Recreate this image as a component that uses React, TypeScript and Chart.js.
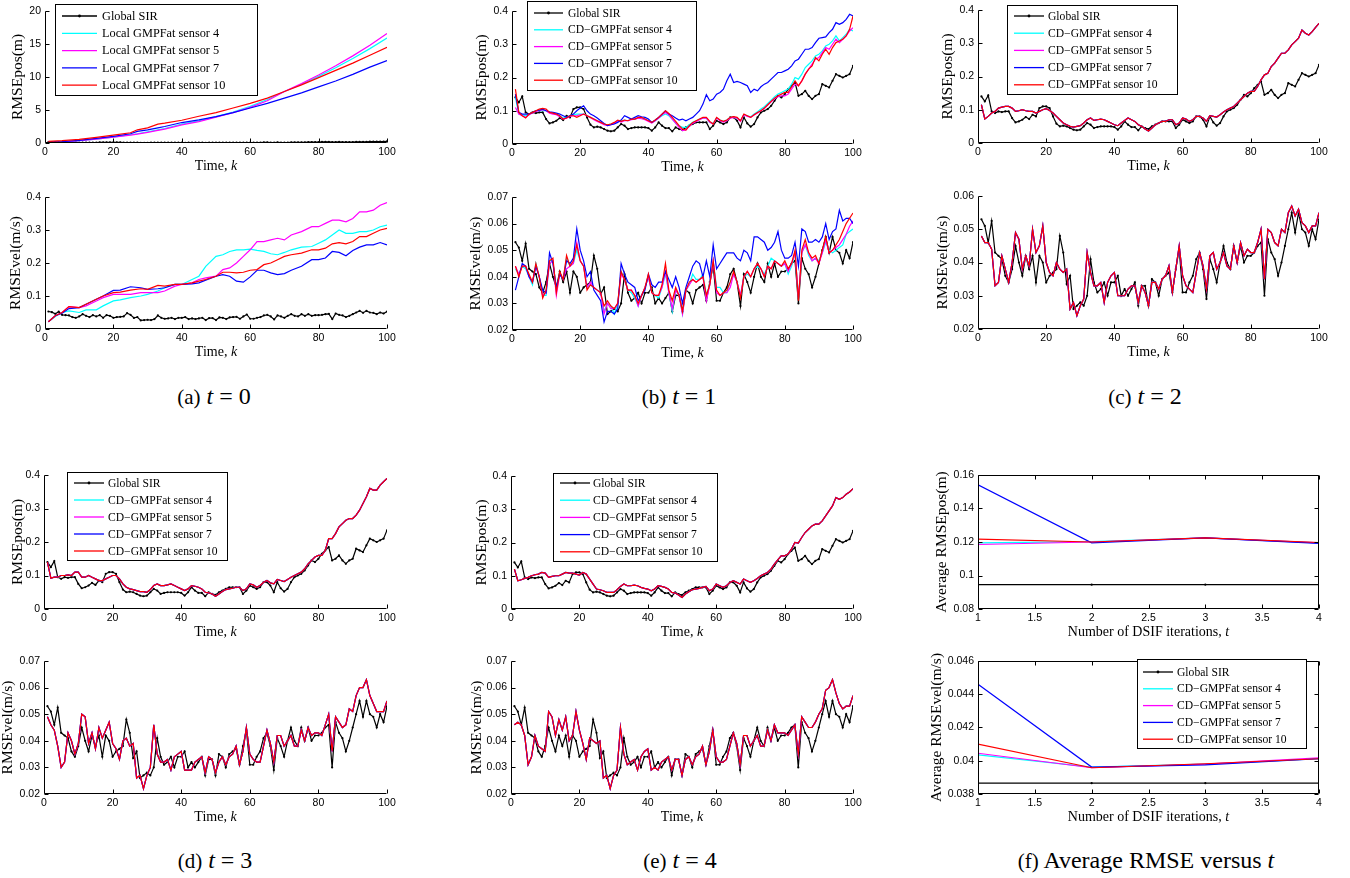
import React, { useEffect, useRef } from "react";
import { Chart, registerables } from "chart.js";
Chart.register(...registerables);

// ---------------- data ----------------
const K100 = Array.from({ length: 100 }, (_, i) => i + 1);

const globalPos = [
  .14,.125,.143,.095,.09,.095,.093,.095,.095,.075,
  .062,.065,.07,.078,.072,.085,.08,.105,.11,.11,
  .105,.08,.058,.05,.052,.05,.045,.04,.038,.04,
  .05,.06,.055,.045,.048,.05,.05,.05,.05,.048,
  .04,.05,.065,.055,.048,.048,.038,.05,.045,.042,
  .05,.055,.06,.065,.065,.065,.065,.045,.055,.07,
  .065,.06,.065,.08,.08,.07,.05,.08,.062,.052,
  .06,.08,.095,.1,.105,.115,.13,.145,.14,.15,
  .165,.175,.185,.145,.15,.16,.145,.135,.145,.15,
  .18,.175,.17,.19,.21,.205,.2,.205,.21,.235];

const globalVel = [
  .053,.051,.046,.0525,.043,.042,.041,.036,.034,.038,
  .045,.04,.036,.042,.038,.042,.034,.042,.04,.034,
  .036,.037,.038,.048,.043,.0335,.036,.026,.027,.028,
  .027,.03,.041,.034,.031,.032,.034,.03,.034,.034,
  .036,.03,.032,.03,.032,.034,.027,.033,.033,.027,
  .035,.034,.03,.035,.036,.037,.031,.038,.044,.031,
  .031,.034,.036,.041,.043,.038,.029,.041,.038,.034,
  .04,.045,.04,.038,.045,.04,.045,.04,.042,.042,
  .043,.045,.046,.03,.047,.043,.041,.036,.04,.045,
  .05,.055,.049,.055,.05,.049,.045,.05,.047,.053];

// (a) t = 0, local filters
const aPosK = [1,5,10,15,20,25,27,30,33,35,40,45,50,55,60,65,70,75,80,85,90,95,100];
const aPosS4 = [0.1,0.15,0.35,0.6,0.9,1.25,1.4,1.7,2.0,2.2,2.85,3.35,4.0,4.7,5.55,6.6,7.8,8.9,10.1,11.4,12.8,14.3,15.9];
const aPosS5 = [0.1,0.15,0.35,0.6,0.9,1.2,1.35,1.6,1.9,2.1,2.75,3.25,3.9,4.6,5.4,6.4,7.8,9.0,10.3,11.7,13.2,14.8,16.6];
const aPosS7 = [0.15,0.2,0.4,0.7,1.0,1.4,1.75,2.0,2.3,2.5,3.1,3.5,4.0,4.6,5.3,6.0,6.8,7.6,8.5,9.4,10.4,11.5,12.5];
const aPosS10 = [0.25,0.35,0.55,0.85,1.2,1.55,2.0,2.3,2.85,3.0,3.45,4.05,4.6,5.3,6.0,6.8,7.8,8.8,9.9,11.0,12.1,13.3,14.5];

const aVelK = [1,3,5,7,10,12,15,17,20,22,25,28,30,33,35,38,40,43,45,47,50,52,54,56,58,60,62,64,66,68,70,72,75,78,80,82,84,86,88,90,92,94,96,98,100];
const aVelS4 = [.022,.038,.050,.055,.050,.058,.058,.070,.085,.088,.095,.100,.105,.115,.125,.135,.135,.150,.160,.190,.220,.225,.235,.240,.240,.242,.238,.235,.228,.225,.232,.240,.248,.250,.260,.270,.285,.300,.290,.290,.295,.295,.300,.310,.315];
const aVelS5 = [.022,.040,.050,.068,.065,.070,.085,.095,.105,.105,.105,.110,.110,.110,.115,.130,.135,.140,.150,.155,.160,.180,.185,.200,.220,.240,.265,.265,.270,.275,.270,.285,.295,.310,.310,.320,.330,.330,.325,.335,.355,.355,.360,.375,.383];
const aVelS7 = [.022,.040,.048,.062,.065,.075,.090,.100,.117,.118,.128,.125,.120,.122,.125,.135,.135,.137,.140,.148,.160,.165,.160,.145,.142,.158,.178,.178,.170,.165,.168,.178,.190,.210,.210,.215,.235,.232,.222,.238,.248,.255,.255,.262,.255];
const aVelS10 = [.022,.040,.050,.068,.065,.075,.090,.100,.110,.112,.118,.122,.120,.132,.130,.135,.135,.140,.145,.150,.160,.172,.172,.170,.172,.178,.180,.195,.200,.210,.220,.225,.230,.240,.240,.245,.258,.262,.258,.265,.280,.280,.290,.300,.305];

// (b) t = 1
const bPosS4 = [
  .14,.09,.088,.085,.09,.095,.1,.1,.1,.1,
  .095,.093,.09,.085,.078,.08,.085,.088,.09,.09,
  .09,.085,.08,.075,.07,.065,.06,.058,.06,.062,
  .068,.068,.072,.07,.075,.075,.078,.078,.075,.07,
  .065,.07,.078,.085,.09,.085,.075,.062,.055,.05,
  .05,.058,.065,.07,.075,.078,.078,.065,.062,.078,
  .072,.068,.072,.08,.08,.078,.07,.088,.085,.082,
  .09,.097,.105,.112,.122,.132,.142,.15,.155,.16,
  .165,.18,.2,.195,.21,.23,.24,.25,.265,.27,
  .28,.295,.3,.31,.325,.31,.32,.33,.345,.34];
const bPosS5 = [
  .11,.09,.085,.08,.088,.093,.098,.1,.103,.1,
  .093,.09,.088,.082,.075,.078,.083,.085,.085,.088,
  .09,.085,.08,.073,.068,.063,.058,.055,.058,.062,
  .07,.066,.07,.07,.073,.075,.078,.076,.073,.068,
  .063,.07,.078,.088,.095,.088,.075,.063,.05,.04,
  .042,.053,.062,.068,.073,.078,.078,.065,.06,.078,
  .07,.066,.07,.078,.08,.078,.068,.088,.083,.08,
  .087,.093,.1,.107,.117,.127,.136,.142,.145,.145,
  .15,.165,.18,.175,.19,.21,.225,.24,.255,.26,
  .275,.29,.285,.3,.315,.305,.315,.325,.34,.35];
const bPosS7 = [
  .15,.095,.09,.09,.09,.095,.1,.102,.105,.1,
  .097,.095,.093,.09,.085,.08,.085,.09,.1,.108,
  .115,.1,.09,.085,.078,.07,.062,.055,.058,.06,
  .065,.072,.085,.08,.075,.08,.085,.082,.08,.075,
  .065,.072,.08,.09,.1,.09,.085,.078,.072,.075,
  .07,.075,.08,.09,.1,.12,.148,.13,.135,.15,
  .155,.165,.19,.21,.185,.188,.185,.18,.175,.155,
  .165,.16,.172,.18,.185,.195,.205,.215,.215,.22,
  .225,.235,.25,.255,.27,.285,.285,.29,.305,.318,
  .32,.322,.335,.345,.365,.36,.365,.375,.39,.385];
const bPosS10 = [
  .165,.095,.085,.078,.09,.095,.1,.105,.107,.105,
  .095,.093,.09,.085,.075,.078,.085,.085,.08,.085,
  .09,.085,.08,.075,.07,.065,.06,.058,.06,.065,
  .072,.068,.072,.07,.075,.075,.08,.08,.075,.07,
  .065,.072,.08,.09,.1,.092,.08,.068,.055,.045,
  .042,.055,.065,.07,.075,.08,.08,.068,.06,.08,
  .072,.068,.072,.08,.082,.08,.07,.09,.085,.08,
  .088,.095,.1,.108,.118,.128,.138,.145,.15,.155,
  .155,.172,.19,.175,.19,.21,.225,.235,.26,.25,
  .27,.285,.27,.29,.305,.31,.315,.325,.345,.385];

const bVelS4 = [
  .043,.041,.044,.043,.04,.037,.045,.04,.033,.033,
  .046,.046,.035,.041,.039,.047,.044,.045,.05,.046,
  .044,.036,.037,.036,.035,.034,.027,.03,.029,.026,
  .03,.042,.039,.035,.034,.032,.029,.033,.036,.04,
  .034,.033,.032,.036,.041,.034,.027,.035,.033,.026,
  .035,.037,.041,.039,.039,.041,.033,.037,.046,.036,
  .036,.034,.034,.038,.041,.038,.033,.04,.041,.04,
  .043,.044,.043,.041,.044,.047,.046,.045,.044,.045,
  .041,.044,.049,.032,.049,.052,.048,.046,.047,.046,
  .049,.053,.05,.049,.05,.051,.052,.056,.057,.058];
const bVelS5 = [
  .044,.041,.044,.044,.04,.038,.044,.04,.033,.034,
  .045,.046,.033,.041,.039,.043,.044,.045,.053,.046,
  .044,.036,.038,.036,.035,.034,.026,.03,.028,.028,
  .03,.041,.039,.035,.035,.033,.029,.033,.036,.04,
  .034,.033,.033,.036,.042,.034,.028,.035,.033,.026,
  .035,.037,.039,.038,.039,.04,.031,.037,.046,.034,
  .033,.034,.034,.036,.041,.038,.033,.04,.042,.04,
  .043,.045,.043,.04,.044,.043,.046,.045,.044,.045,
  .042,.045,.049,.032,.049,.052,.049,.046,.047,.045,
  .049,.054,.049,.05,.051,.052,.054,.056,.059,.061];
const bVelS7 = [
  .035,.04,.045,.044,.04,.038,.044,.04,.035,.034,
  .049,.045,.036,.041,.039,.046,.045,.047,.058,.05,
  .046,.04,.042,.035,.033,.031,.023,.027,.027,.026,
  .028,.045,.041,.038,.037,.036,.031,.033,.035,.041,
  .037,.036,.038,.038,.042,.039,.036,.04,.036,.03,
  .036,.04,.044,.046,.045,.04,.046,.04,.052,.043,
  .045,.047,.049,.049,.049,.047,.046,.05,.049,.046,
  .055,.055,.054,.053,.05,.051,.053,.057,.05,.047,
  .047,.048,.053,.044,.058,.057,.053,.053,.054,.053,
  .055,.06,.054,.057,.058,.065,.061,.062,.062,.06];
const bVelS10 = [
  .044,.04,.044,.044,.041,.038,.045,.04,.032,.035,
  .046,.047,.034,.042,.039,.048,.044,.046,.052,.046,
  .044,.035,.037,.036,.035,.034,.029,.031,.029,.028,
  .03,.042,.039,.035,.035,.033,.03,.033,.036,.041,
  .034,.033,.033,.037,.045,.035,.031,.036,.033,.027,
  .035,.038,.039,.038,.039,.04,.033,.037,.046,.035,
  .033,.034,.035,.038,.042,.038,.032,.04,.042,.04,
  .043,.045,.043,.04,.044,.043,.046,.045,.044,.046,
  .043,.045,.05,.031,.05,.054,.049,.047,.048,.045,
  .05,.055,.049,.05,.052,.054,.057,.06,.062,.064];

// (c) t = 2 : all four sensors coincide
const cPos = [
  .115,.072,.08,.09,.095,.105,.108,.11,.11,.105,
  .095,.097,.1,.097,.095,.095,.09,.095,.1,.103,
  .098,.09,.08,.07,.06,.055,.05,.048,.05,.052,
  .06,.07,.075,.068,.07,.072,.07,.065,.06,.055,
  .052,.06,.068,.075,.07,.065,.055,.05,.042,.036,
  .045,.055,.06,.065,.065,.07,.07,.055,.06,.075,
  .072,.065,.07,.08,.08,.075,.065,.082,.08,.078,
  .085,.093,.1,.105,.11,.12,.13,.14,.15,.155,
  .155,.17,.19,.205,.21,.23,.24,.255,.27,.27,
  .28,.295,.305,.315,.34,.33,.325,.335,.348,.36];
const cVel = [
  .048,.046,.046,.044,.033,.034,.042,.038,.034,.04,
  .049,.047,.038,.042,.039,.05,.043,.045,.051,.04,
  .037,.036,.04,.038,.037,.038,.026,.028,.024,.027,
  .029,.043,.037,.033,.033,.034,.028,.034,.036,.037,
  .03,.03,.03,.032,.033,.033,.028,.033,.031,.027,
  .034,.034,.032,.035,.036,.039,.031,.038,.045,.036,
  .033,.032,.031,.037,.043,.039,.032,.042,.043,.038,
  .04,.043,.039,.038,.045,.04,.046,.042,.044,.043,
  .043,.046,.05,.035,.05,.049,.046,.045,.05,.049,
  .055,.057,.054,.056,.052,.051,.049,.051,.051,.055];

// (d) t = 3
const dPos = [
  .14,.092,.095,.095,.1,.1,.102,.1,.11,.11,
  .095,.095,.1,.095,.09,.085,.085,.09,.095,.1,
  .1,.09,.075,.065,.06,.058,.055,.052,.052,.05,
  .058,.07,.075,.07,.07,.072,.075,.07,.065,.06,
  .055,.06,.07,.068,.065,.06,.05,.048,.045,.038,
  .045,.052,.058,.06,.062,.065,.065,.055,.06,.075,
  .072,.065,.07,.08,.085,.078,.075,.088,.085,.082,
  .088,.095,.1,.105,.11,.12,.135,.145,.155,.16,
  .16,.175,.21,.21,.225,.245,.255,.265,.27,.27,
  .28,.295,.315,.335,.36,.355,.355,.37,.38,.39];
const dVel = [
  .049,.046,.044,.038,.03,.032,.043,.04,.035,.039,
  .05,.049,.039,.043,.037,.045,.041,.044,.047,.039,
  .037,.033,.04,.041,.038,.039,.026,.027,.022,.027,
  .03,.046,.035,.032,.032,.033,.029,.034,.035,.036,
  .029,.029,.029,.032,.033,.034,.028,.034,.033,.028,
  .032,.034,.031,.034,.035,.038,.031,.036,.045,.035,
  .033,.032,.032,.038,.044,.039,.032,.042,.042,.038,
  .04,.042,.038,.038,.044,.04,.045,.042,.043,.043,
  .042,.046,.05,.036,.049,.047,.045,.046,.052,.051,
  .057,.06,.06,.063,.057,.054,.051,.051,.051,.055];

// (e) t = 4
const ePos = [
  .12,.085,.088,.092,.095,.1,.103,.105,.11,.108,
  .095,.098,.1,.1,.105,.11,.108,.108,.105,.102,
  .11,.105,.09,.075,.06,.058,.055,.05,.05,.05,
  .058,.068,.075,.07,.07,.072,.07,.065,.062,.06,
  .055,.06,.07,.068,.065,.06,.05,.048,.042,.035,
  .045,.052,.058,.06,.062,.065,.068,.055,.06,.075,
  .07,.065,.07,.08,.085,.08,.075,.09,.085,.08,
  .085,.092,.1,.105,.11,.12,.135,.148,.16,.16,
  .165,.18,.2,.198,.215,.23,.24,.25,.255,.255,
  .265,.28,.295,.31,.335,.33,.335,.345,.352,.362];
const eVel = [
  .046,.047,.046,.042,.031,.034,.042,.038,.037,.036,
  .051,.049,.042,.048,.044,.049,.04,.042,.051,.044,
  .039,.033,.041,.04,.039,.04,.026,.027,.022,.027,
  .029,.045,.035,.031,.032,.033,.029,.034,.036,.037,
  .029,.03,.029,.032,.033,.034,.029,.033,.033,.027,
  .033,.034,.031,.034,.035,.038,.031,.036,.044,.034,
  .032,.032,.033,.038,.043,.039,.031,.042,.042,.038,
  .04,.042,.038,.038,.044,.04,.046,.043,.043,.043,
  .042,.044,.046,.035,.049,.047,.045,.045,.047,.05,
  .052,.059,.06,.063,.058,.054,.052,.053,.053,.057];

// (f) averages versus number of DSIF iterations
const fT = [1, 2, 3, 4];
const fPosGlobal = [0.0945, 0.0945, 0.0945, 0.0945];
const fPosS4 = [0.1195, 0.1202, 0.1225, 0.1195];
const fPosS5 = [0.1185, 0.1200, 0.1225, 0.1195];
const fPosS7 = [0.1542, 0.1195, 0.1225, 0.1192];
const fPosS10 = [0.1217, 0.1200, 0.1225, 0.1197];
const fVelGlobal = [0.03865, 0.03865, 0.03865, 0.03865];
const fVelS4 = [0.04035, 0.03962, 0.0398, 0.04012];
const fVelS5 = [0.04045, 0.03958, 0.0398, 0.04018];
const fVelS7 = [0.0446, 0.03962, 0.03975, 0.04012];
const fVelS10 = [0.0410, 0.03958, 0.03982, 0.04012];

const labelsLocal = ["Global SIR", "Local GMPFat sensor 4", "Local GMPFat sensor 5", "Local GMPFat sensor 7", "Local GMPFat sensor 10"];
const labelsCD = ["Global SIR", "CD\u2212GMPFat sensor 4", "CD\u2212GMPFat sensor 5", "CD\u2212GMPFat sensor 7", "CD\u2212GMPFat sensor 10"];
const COLORS = ["#000000", "#00ffff", "#ff00ff", "#0000ff", "#ff0000"];

const xTicksTime = [0, 100, 20];
const xTicksIter = [1, 4, 0.5];

// ---------------- layout / styling ----------------
const SERIF = '"Liberation Serif", "Times New Roman", serif';
const SANS = '"Liberation Sans", Arial, sans-serif';

type Series = { label: string; color: string; xs: number[]; ys: number[]; dots: boolean };
type Legend = { x: number; y: number; w: number; h: number; row0: number; step: number; sw0: number; swLen: number; tx: number; font: number };
type Spec = {
  key: string; l: number; t: number; w: number; h: number;
  xr: number[]; yr: number[]; yTitle: string; yOff: number;
  xTitle: [string, string]; box: boolean; series: Series[]; legend?: Legend;
};

function build(labels: string[], xsG: number[], g: number[], xsS: number[], s: number[][]): Series[] {
  const out: Series[] = [{ label: labels[0], color: COLORS[0], xs: xsG, ys: g, dots: true }];
  s.forEach((ys, i) => out.push({ label: labels[i + 1], color: COLORS[i + 1], xs: xsS, ys, dots: false }));
  return out;
}

const TT: [string, string] = ["Time, ", "k"];
const TI: [string, string] = ["Number of DSIF iterations, ", "t"];

const specs: Spec[] = [
  { key: "apos", l: 45, t: 11, w: 342, h: 132, xr: xTicksTime, yr: [0, 20, 5], yTitle: "RMSEpos(m)", yOff: 27, xTitle: TT, box: false,
    series: build(labelsLocal, K100, globalPos, aPosK, [aPosS4, aPosS5, aPosS7, aPosS10]),
    legend: { x: 55, y: 4, w: 203, h: 92, row0: 12, step: 17.3, sw0: 7, swLen: 35, tx: 47, font: 12.3 } },
  { key: "avel", l: 45, t: 197, w: 342, h: 132, xr: xTicksTime, yr: [0, 0.4, 0.1], yTitle: "RMSEvel(m/s)", yOff: 29, xTitle: TT, box: false,
    series: build(labelsLocal, K100, globalVel, aVelK, [aVelS4, aVelS5, aVelS7, aVelS10]) },
  { key: "bpos", l: 512, t: 11, w: 341, h: 133, xr: xTicksTime, yr: [0, 0.4, 0.1], yTitle: "RMSEpos(m)", yOff: 30, xTitle: TT, box: false,
    series: build(labelsCD, K100, globalPos, K100, [bPosS4, bPosS5, bPosS7, bPosS10]),
    legend: { x: 527, y: 1, w: 170, h: 90, row0: 12, step: 16.8, sw0: 7, swLen: 29, tx: 41, font: 11.6 } },
  { key: "bvel", l: 512, t: 197, w: 341, h: 133, xr: xTicksTime, yr: [0.02, 0.07, 0.01], yTitle: "RMSEvel(m/s)", yOff: 36, xTitle: TT, box: false,
    series: build(labelsCD, K100, globalVel, K100, [bVelS4, bVelS5, bVelS7, bVelS10]) },
  { key: "cpos", l: 978, t: 10, w: 341, h: 133, xr: xTicksTime, yr: [0, 0.4, 0.1], yTitle: "RMSEpos(m)", yOff: 30, xTitle: TT, box: false,
    series: build(labelsCD, K100, globalPos, K100, [cPos, cPos, cPos, cPos]),
    legend: { x: 1007, y: 5, w: 171, h: 90, row0: 11, step: 17.2, sw0: 7, swLen: 30, tx: 41, font: 11.6 } },
  { key: "cvel", l: 978, t: 196, w: 341, h: 133, xr: xTicksTime, yr: [0.02, 0.06, 0.01], yTitle: "RMSEvel(m/s)", yOff: 35, xTitle: TT, box: false,
    series: build(labelsCD, K100, globalVel, K100, [cVel, cVel, cVel, cVel]) },
  { key: "dpos", l: 44, t: 475, w: 343, h: 134, xr: xTicksTime, yr: [0, 0.4, 0.1], yTitle: "RMSEpos(m)", yOff: 26, xTitle: TT, box: false,
    series: build(labelsCD, K100, globalPos, K100, [dPos, dPos, dPos, dPos]),
    legend: { x: 67, y: 472, w: 161, h: 89, row0: 11, step: 17, sw0: 7, swLen: 30, tx: 41, font: 11.6 } },
  { key: "dvel", l: 44, t: 661, w: 343, h: 133, xr: xTicksTime, yr: [0.02, 0.07, 0.01], yTitle: "RMSEvel(m/s)", yOff: 36, xTitle: TT, box: false,
    series: build(labelsCD, K100, globalVel, K100, [dVel, dVel, dVel, dVel]) },
  { key: "epos", l: 511, t: 476, w: 342, h: 133, xr: xTicksTime, yr: [0, 0.4, 0.1], yTitle: "RMSEpos(m)", yOff: 29, xTitle: TT, box: false,
    series: build(labelsCD, K100, globalPos, K100, [ePos, ePos, ePos, ePos]),
    legend: { x: 553, y: 473, w: 165, h: 89, row0: 10, step: 17.2, sw0: 7, swLen: 30, tx: 40, font: 11.6 } },
  { key: "evel", l: 511, t: 661, w: 342, h: 133, xr: xTicksTime, yr: [0.02, 0.07, 0.01], yTitle: "RMSEvel(m/s)", yOff: 34, xTitle: TT, box: false,
    series: build(labelsCD, K100, globalVel, K100, [eVel, eVel, eVel, eVel]) },
  { key: "fpos", l: 978, t: 475, w: 341, h: 134, xr: xTicksIter, yr: [0.08, 0.16, 0.02], yTitle: "Average RMSEpos(m)", yOff: 36, xTitle: TI, box: true,
    series: build(labelsCD, fT, fPosGlobal, fT, [fPosS4, fPosS5, fPosS7, fPosS10]) },
  { key: "fvel", l: 978, t: 661, w: 341, h: 133, xr: xTicksIter, yr: [0.038, 0.046, 0.002], yTitle: "Average RMSEvel(m/s)", yOff: 41, xTitle: TI, box: true,
    series: build(labelsCD, fT, fVelGlobal, fT, [fVelS4, fVelS5, fVelS7, fVelS10]),
    legend: { x: 1137, y: 659, w: 170, h: 90, row0: 13, step: 16.8, sw0: 6, swLen: 30, tx: 40, font: 11.6 } },
];

const captions = [
  { cx: 214, cy: 396, tag: "(a)", rest: "= 0" },
  { cx: 679, cy: 396, tag: "(b)", rest: "= 1" },
  { cx: 1145, cy: 396, tag: "(c)", rest: "= 2" },
  { cx: 215, cy: 860, tag: "(d)", rest: "= 3" },
  { cx: 680, cy: 860, tag: "(e)", rest: "= 4" },
];

const PAD_L = 50, PAD_T = 11, PAD_R = 14, PAD_B = 32;
const Y_TITLE_SIZE = 15.5, X_TITLE_SIZE = 14, TICK_SIZE = 10.5;

const fmt = (v: number | string) => String(parseFloat(Number(v).toFixed(6)));

function makePlugin(spec: Spec, cl: number, ct: number) {
  return {
    id: "matlab_" + spec.key,
    afterDraw(chart: any) {
      const { ctx, chartArea: ca, scales } = chart;
      ctx.save();
      ctx.strokeStyle = "#000";
      ctx.lineWidth = 1;
      const L = Math.round(ca.left) + 0.5, R = Math.round(ca.right) - 0.5;
      const T = Math.round(ca.top) + 0.5, B = Math.round(ca.bottom) - 0.5;
      ctx.beginPath();
      ctx.moveTo(L, T); ctx.lineTo(L, B); ctx.lineTo(R, B);
      if (spec.box) { ctx.lineTo(R, T); ctx.lineTo(L, T); }
      ctx.stroke();
      const tl = 4;
      ctx.beginPath();
      scales.x.ticks.forEach((t: any) => {
        const px = Math.round(scales.x.getPixelForValue(t.value)) + 0.5;
        ctx.moveTo(px, B); ctx.lineTo(px, B - tl);
        if (spec.box) { ctx.moveTo(px, T); ctx.lineTo(px, T + tl); }
      });
      scales.y.ticks.forEach((t: any) => {
        const py = Math.round(scales.y.getPixelForValue(t.value)) + 0.5;
        ctx.moveTo(L, py); ctx.lineTo(L + tl, py);
        if (spec.box) { ctx.moveTo(R, py); ctx.lineTo(R - tl, py); }
      });
      ctx.stroke();

      // x-axis title with italic variable
      const [p1, p2] = spec.xTitle;
      ctx.fillStyle = "#000";
      ctx.textBaseline = "middle";
      ctx.textAlign = "left";
      ctx.font = `${X_TITLE_SIZE}px ${SERIF}`;
      const w1 = ctx.measureText(p1).width;
      ctx.font = `italic ${X_TITLE_SIZE}px ${SERIF}`;
      const w2 = ctx.measureText(p2).width;
      const x0 = (ca.left + ca.right) / 2 - (w1 + w2) / 2;
      const y0 = ca.bottom + 23;
      ctx.font = `${X_TITLE_SIZE}px ${SERIF}`;
      ctx.fillText(p1, x0, y0);
      ctx.font = `italic ${X_TITLE_SIZE}px ${SERIF}`;
      ctx.fillText(p2, x0 + w1, y0);

      // legend
      const lg = spec.legend;
      if (lg) {
        const bx = lg.x - cl, by = lg.y - ct;
        ctx.fillStyle = "#fff";
        ctx.fillRect(bx, by, lg.w, lg.h);
        ctx.strokeStyle = "#000";
        ctx.lineWidth = 1;
        ctx.strokeRect(bx + 0.5, by + 0.5, lg.w - 1, lg.h - 1);
        ctx.font = `${lg.font}px ${SERIF}`;
        ctx.textBaseline = "middle";
        spec.series.forEach((s, i) => {
          const ry = by + lg.row0 + i * lg.step;
          ctx.strokeStyle = s.color;
          ctx.lineWidth = 1.3;
          ctx.beginPath();
          ctx.moveTo(bx + lg.sw0, ry); ctx.lineTo(bx + lg.sw0 + lg.swLen, ry);
          ctx.stroke();
          if (s.dots) {
            ctx.fillStyle = s.color;
            ctx.beginPath();
            ctx.arc(bx + lg.sw0 + lg.swLen / 2, ry, 1.4, 0, Math.PI * 2);
            ctx.fill();
          }
          ctx.fillStyle = "#000";
          ctx.fillText(s.label, bx + lg.tx, ry + 0.5);
        });
      }
      ctx.restore();
    },
  };
}

function Plot({ spec }: { spec: Spec }) {
  const ref = useRef<HTMLCanvasElement | null>(null);
  const W = spec.w + PAD_L + PAD_R;
  const H = spec.h + PAD_T + PAD_B;
  const cl = spec.l - PAD_L, ct = spec.t - PAD_T;
  useEffect(() => {
    if (!ref.current) return;
    const lineH = Y_TITLE_SIZE * 1.2;
    const titlePadTop = Math.max(0, PAD_L - spec.yOff - lineH / 2);
    const tickFont = { family: SANS, size: TICK_SIZE };
    const n = spec.series.length;
    const chart = new Chart(ref.current, {
      type: "line",
      data: {
        datasets: spec.series.map((s, i) => ({
          label: s.label,
          data: s.xs.map((x, j) => ({ x, y: s.ys[j] })),
          order: n - i, // later series drawn on top, as in the original plot
          borderColor: s.color,
          backgroundColor: s.color,
          borderWidth: 1.2,
          pointRadius: s.dots ? 1.1 : 0,
          pointBorderWidth: 0,
          pointBackgroundColor: s.color,
          tension: 0,
          fill: false,
        })),
      },
      options: {
        animation: false,
        responsive: false,
        maintainAspectRatio: false,
        events: [],
        layout: { padding: { top: PAD_T, right: PAD_R, left: 0, bottom: 0 } },
        plugins: { legend: { display: false }, tooltip: { enabled: false }, title: { display: false } },
        scales: {
          x: {
            type: "linear",
            min: spec.xr[0], max: spec.xr[1],
            ticks: { stepSize: spec.xr[2], padding: 3, font: tickFont, color: "#000", maxRotation: 0, autoSkip: false, callback: fmt },
            grid: { display: false, drawTicks: false },
            border: { display: false },
            afterFit: (s: any) => { s.height = PAD_B; },
          },
          y: {
            type: "linear",
            min: spec.yr[0], max: spec.yr[1],
            ticks: { stepSize: spec.yr[2], padding: 4, font: tickFont, color: "#000", autoSkip: false, callback: fmt },
            grid: { display: false, drawTicks: false },
            border: { display: false },
            title: { display: true, text: spec.yTitle, color: "#000", font: { family: SERIF, size: Y_TITLE_SIZE }, padding: { top: titlePadTop, bottom: 0 } },
            afterFit: (s: any) => { s.width = PAD_L; },
          },
        },
      } as any,
      plugins: [makePlugin(spec, cl, ct)],
    });
    return () => chart.destroy();
  }, []);
  return (
    <canvas
      ref={ref}
      width={W}
      height={H}
      style={{ position: "absolute", left: cl, top: ct, width: W, height: H }}
    />
  );
}

export default function App() {
  return (
    <div style={{ position: "absolute", left: 0, top: 0, width: 1350, height: 878, background: "#fff", overflow: "hidden" }}>
      {specs.map((s) => <Plot key={s.key} spec={s} />)}
      {captions.map((c) => (
        <div key={c.tag} style={{ position: "absolute", left: c.cx - 150, width: 300, top: c.cy - 15, textAlign: "center", fontFamily: SERIF, fontSize: 24, lineHeight: "30px", color: "#000" }}>
          <span style={{ fontSize: 21 }}>{c.tag}</span>{" "}<i>t</i>{" "}{c.rest}
        </div>
      ))}
      <div style={{ position: "absolute", left: 1146 - 200, width: 400, top: 860 - 15, textAlign: "center", fontFamily: SERIF, fontSize: 24, lineHeight: "30px", color: "#000" }}>
        <span style={{ fontSize: 21 }}>(f)</span> Average RMSE versus <i>t</i>
      </div>
    </div>
  );
}
